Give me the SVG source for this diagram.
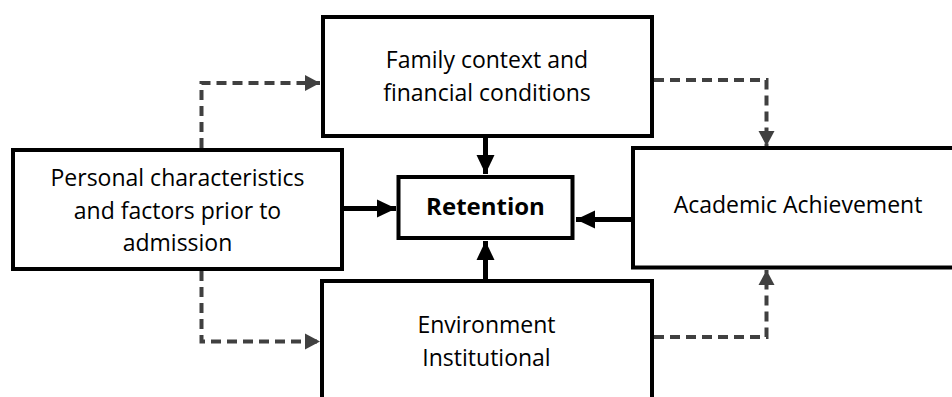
<svg xmlns="http://www.w3.org/2000/svg" width="952" height="397" viewBox="0 0 952 397">
<style>
.box{fill:#fff;stroke:#000;stroke-width:4}
.t{font-family:"Open Sans","Noto Sans",sans-serif;font-size:23px;fill:#000;text-anchor:middle}
.b{font-weight:bold;font-size:24px}
.solid{stroke:#000;stroke-width:5;fill:none}
.dash{stroke:#404040;stroke-width:4;fill:none;stroke-dasharray:10 6}
</style>
<defs>
<marker id="ah" markerUnits="userSpaceOnUse" markerWidth="20" markerHeight="20" viewBox="0 0 20 20" refX="19" refY="10" orient="auto">
<path d="M0,1 L19,10 L0,19 Z" fill="#000"/>
</marker>
<marker id="dh" markerUnits="userSpaceOnUse" markerWidth="16" markerHeight="18" viewBox="0 0 16 18" refX="15" refY="9" orient="auto">
<path d="M0,1 L15,9 L0,17 Z" fill="#404040"/>
</marker>
</defs>
<g id="connectors">
<path class="solid" d="M485.5,138 L485.5,174" marker-end="url(#ah)"/>
<path class="solid" d="M485.5,279 L485.5,241" marker-end="url(#ah)"/>
<path class="solid" d="M344,208.5 L396,208.5" marker-end="url(#ah)"/>
<path class="solid" d="M631,219.5 L576,219.5" marker-end="url(#ah)"/>
<path class="dash" d="M201.5,148 L201.5,83 L320,83" marker-end="url(#dh)"/>
<path class="dash" d="M654,80 L766.5,80 L766.5,146" marker-end="url(#dh)"/>
<path class="dash" d="M201.5,271 L201.5,341.5 L320,341.5" marker-end="url(#dh)"/>
<path class="dash" d="M654,337 L766.5,337 L766.5,270" marker-end="url(#dh)"/>
</g>
<g id="family">
<rect class="box" x="323" y="17" width="329" height="119"/>
<text class="t" x="487" y="68">Family context and</text>
<text class="t" x="487" y="101">financial conditions</text>
</g>
<g id="personal">
<rect class="box" x="13" y="150" width="329" height="119"/>
<text class="t" x="177.5" y="186">Personal characteristics</text>
<text class="t" x="177.5" y="218.5">and factors prior to</text>
<text class="t" x="177.5" y="251">admission</text>
</g>
<g id="retention">
<rect class="box" x="398.5" y="177" width="174" height="61"/>
<text class="t b" x="485.5" y="215">Retention</text>
</g>
<g id="academic">
<rect class="box" x="633" y="148" width="330" height="119.5"/>
<text class="t" x="798" y="213">Academic Achievement</text>
</g>
<g id="environment">
<rect class="box" x="322" y="281" width="330" height="130"/>
<text class="t" x="486.5" y="332.5">Environment</text>
<text class="t" x="486.5" y="366">Institutional</text>
</g>
</svg>
